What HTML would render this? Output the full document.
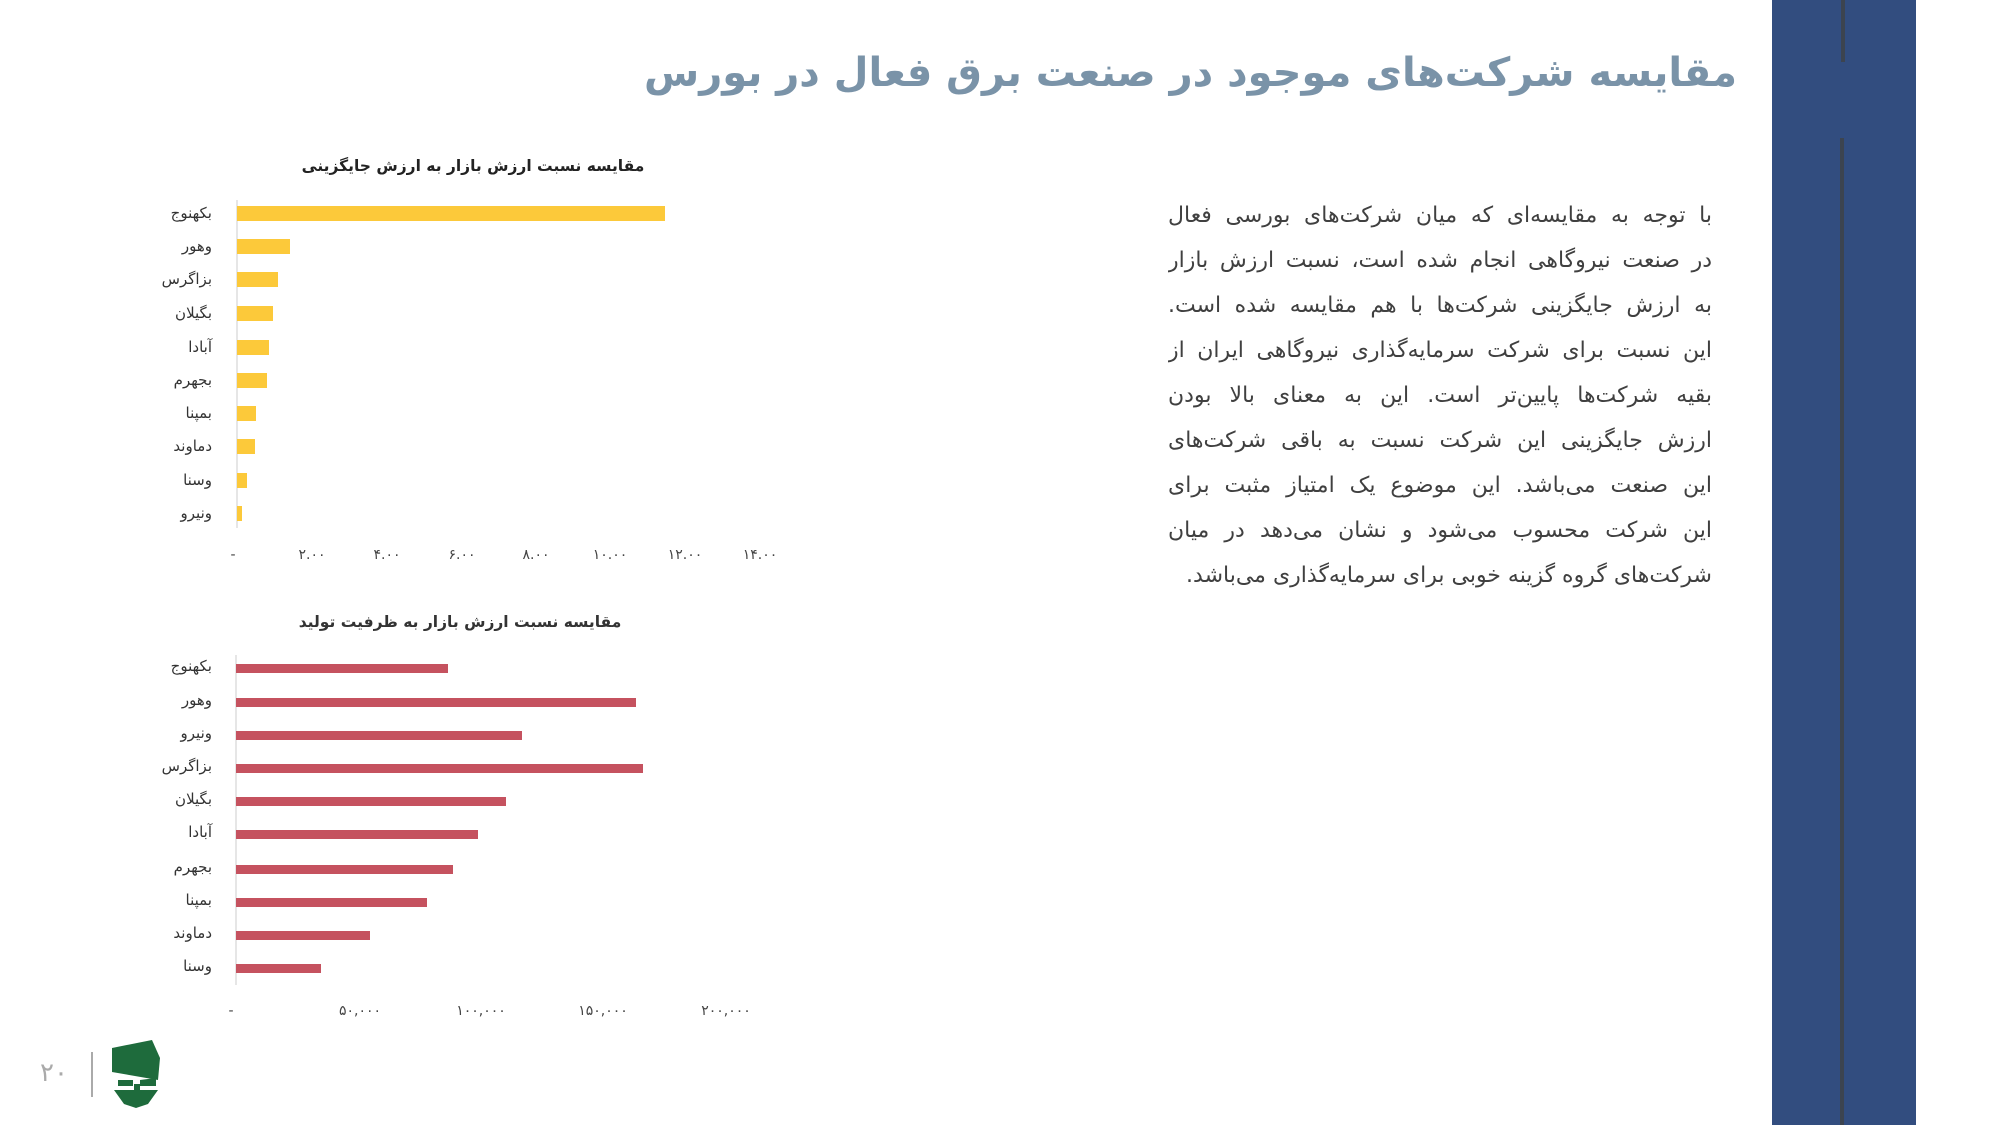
<!DOCTYPE html>
<html><head><meta charset="utf-8"><style>
body{margin:0;width:2000px;height:1125px;background:#fff;position:relative;overflow:hidden;font-family:"DejaVu Sans","Liberation Sans",sans-serif}
.t{position:absolute;white-space:nowrap}
.lab{position:absolute;right:1788px;direction:rtl;font-size:15px;color:#333;transform:translateY(-50%)}
.tk{position:absolute;font-size:14px;color:#444;transform:translate(-50%,-50%)}
.para{position:absolute;left:1168px;width:544px;top:193px;direction:rtl;font-size:22px;color:#404040;line-height:45px;text-align:justify;text-align-last:justify}
.para div{height:45px;overflow:hidden}
</style></head><body>
<div style="position:absolute;left:1772px;top:0;width:144px;height:1125px;background:#324d7f"></div>
<div style="position:absolute;left:1841px;top:0;width:4px;height:62px;background:#3c4450"></div>
<div style="position:absolute;left:1840px;top:138px;width:4px;height:987px;background:#3c4450"></div>
<div class="t" style="right:263px;top:50px;direction:rtl;font-size:40px;font-weight:bold;color:#7a93a8">مقایسه شرکت‌های موجود در صنعت برق فعال در بورس</div>

<div class="t" style="left:473px;top:166px;transform:translate(-50%,-50%);direction:rtl;font-size:15.5px;font-weight:bold;color:#222">مقایسه نسبت ارزش بازار به ارزش جایگزینی</div>
<div class="t" style="left:460px;top:622px;transform:translate(-50%,-50%);direction:rtl;font-size:15.5px;font-weight:bold;color:#333">مقایسه نسبت ارزش بازار به ظرفیت تولید</div>

<svg width="2000" height="1125" style="position:absolute;left:0;top:0">
<line x1="237" y1="200" x2="237" y2="528" stroke="#ddd" stroke-width="1.5"/>
<g fill="#fcc93a">
<rect x="237" y="206" width="428" height="15"/>
<rect x="237" y="239" width="53" height="15"/>
<rect x="237" y="272" width="41" height="15"/>
<rect x="237" y="306" width="36" height="15"/>
<rect x="237" y="340" width="32" height="15"/>
<rect x="237" y="373" width="30" height="15"/>
<rect x="237" y="406" width="19" height="15"/>
<rect x="237" y="439" width="18" height="15"/>
<rect x="237" y="473" width="10" height="15"/>
<rect x="237" y="506" width="5" height="15"/>
</g>
<line x1="236" y1="655" x2="236" y2="985" stroke="#ddd" stroke-width="1.5"/>
<g fill="#c5525f">
<rect x="236" y="664" width="212" height="9"/>
<rect x="236" y="698" width="400" height="9"/>
<rect x="236" y="731" width="286" height="9"/>
<rect x="236" y="764" width="407" height="9"/>
<rect x="236" y="797" width="270" height="9"/>
<rect x="236" y="830" width="242" height="9"/>
<rect x="236" y="865" width="217" height="9"/>
<rect x="236" y="898" width="191" height="9"/>
<rect x="236" y="931" width="134" height="9"/>
<rect x="236" y="964" width="85" height="9"/>
</g>
<line x1="92" y1="1052" x2="92" y2="1097" stroke="#aaa" stroke-width="2"/>
<g fill="#1e6b3c">
<polygon points="112,1048 152,1040 160,1058 158,1080 112,1072"/>
<polygon points="118,1080 133,1080 133,1086 118,1086"/>
<polygon points="140,1080 156,1078 156,1086 140,1086"/>
<polygon points="114,1090 134,1090 134,1084 140,1084 140,1090 158,1090 148,1104 136,1108 124,1104"/>
</g>
</svg>

<div class="lab" style="top:213px">بکهنوج</div>
<div class="lab" style="top:246px">وهور</div>
<div class="lab" style="top:279px">بزاگرس</div>
<div class="lab" style="top:313px">بگیلان</div>
<div class="lab" style="top:347px">آبادا</div>
<div class="lab" style="top:380px">بجهرم</div>
<div class="lab" style="top:413px">بمپنا</div>
<div class="lab" style="top:446px">دماوند</div>
<div class="lab" style="top:480px">وسنا</div>
<div class="lab" style="top:513px">ونیرو</div>

<div class="tk" style="left:233px;top:555px">-</div>
<div class="tk" style="left:312px;top:555px">۲.۰۰</div>
<div class="tk" style="left:387px;top:555px">۴.۰۰</div>
<div class="tk" style="left:462px;top:555px">۶.۰۰</div>
<div class="tk" style="left:536px;top:555px">۸.۰۰</div>
<div class="tk" style="left:610px;top:555px">۱۰.۰۰</div>
<div class="tk" style="left:685px;top:555px">۱۲.۰۰</div>
<div class="tk" style="left:760px;top:555px">۱۴.۰۰</div>

<div class="lab" style="top:666px">بکهنوج</div>
<div class="lab" style="top:700px">وهور</div>
<div class="lab" style="top:733px">ونیرو</div>
<div class="lab" style="top:766px">بزاگرس</div>
<div class="lab" style="top:799px">بگیلان</div>
<div class="lab" style="top:832px">آبادا</div>
<div class="lab" style="top:867px">بجهرم</div>
<div class="lab" style="top:900px">بمپنا</div>
<div class="lab" style="top:933px">دماوند</div>
<div class="lab" style="top:966px">وسنا</div>

<div class="tk" style="left:231px;top:1011px">-</div>
<div class="tk" style="left:360px;top:1011px">۵۰,۰۰۰</div>
<div class="tk" style="left:481px;top:1011px">۱۰۰,۰۰۰</div>
<div class="tk" style="left:603px;top:1011px">۱۵۰,۰۰۰</div>
<div class="tk" style="left:726px;top:1011px">۲۰۰,۰۰۰</div>

<div class="t" style="left:40px;top:1058px;font-size:26px;color:#aaa">۲۰</div>

<div class="para">
<div>با توجه به مقایسه‌ای که میان شرکت‌های بورسی فعال</div>
<div>در صنعت نیروگاهی انجام شده است، نسبت ارزش بازار</div>
<div>به ارزش جایگزینی شرکت‌ها با هم مقایسه شده است.</div>
<div>این نسبت برای شرکت سرمایه‌گذاری نیروگاهی ایران از</div>
<div>بقیه شرکت‌ها پایین‌تر است. این به معنای بالا بودن</div>
<div>ارزش جایگزینی این شرکت نسبت به باقی شرکت‌های</div>
<div>این صنعت می‌باشد. این موضوع یک امتیاز مثبت برای</div>
<div>این شرکت محسوب می‌شود و نشان می‌دهد در میان</div>
<div style="text-align-last:right">شرکت‌های گروه گزینه خوبی برای سرمایه‌گذاری می‌باشد.</div>
</div>
</body></html>
